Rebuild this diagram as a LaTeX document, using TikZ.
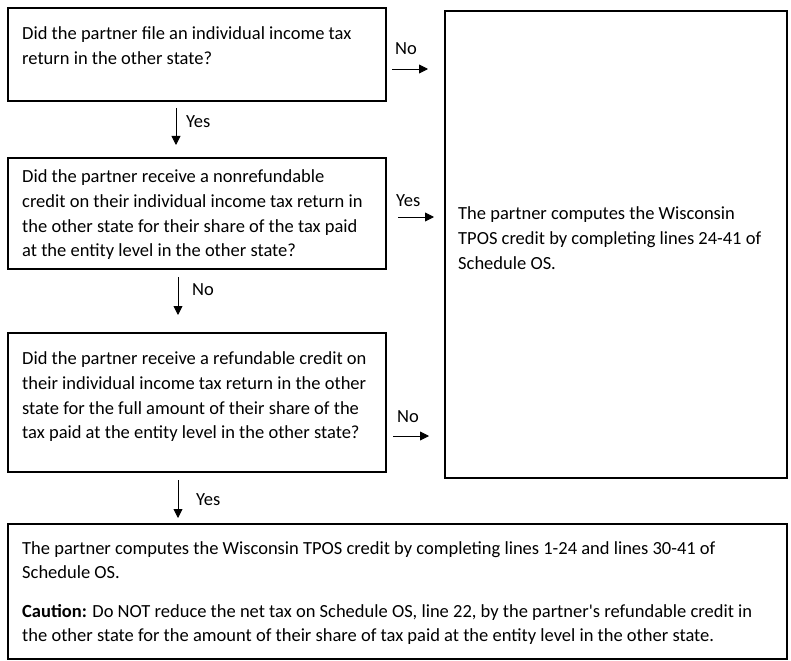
\documentclass[tikz,border=0pt]{standalone}
\usepackage{fontspec}
\setmainfont{Carlito}
\usetikzlibrary{arrows.meta}
\begin{document}
\begin{tikzpicture}[x=1bp,y=-1bp,
  box/.style={draw=black,line width=1.6bp,inner sep=0pt,anchor=north west},
  txt/.style={anchor=base west,align=left,inner sep=0pt,font=\fontsize{18.5bp}{24.8bp}\selectfont},
  lbl/.style={anchor=base west,inner sep=0pt,font=\fontsize{18.5bp}{24.8bp}\selectfont},
  arr/.style={line width=0.9bp,-{Triangle[length=9bp,width=9bp]}}]
\useasboundingbox (0,0) rectangle (791,661);
% boxes
\node[box,minimum width=378bp,minimum height=93bp] (b1) at (7,7) {};
\node[box,minimum width=378bp,minimum height=111bp] (b2) at (7,157) {};
\node[box,minimum width=378bp,minimum height=139bp] (b3) at (7,332) {};
\node[box,minimum width=342bp,minimum height=467bp] (r) at (444,10) {};
\node[box,minimum width=779bp,minimum height=135bp] (bot) at (7,523) {};
% texts (anchored at the baseline of their last line)
\node[txt] (t1) at (22,64.3) {Did the partner file an individual income tax\\return in the other state?};
\node[txt] (t2) at (22,256.9) {Did the partner receive a nonrefundable\\credit on their individual income tax return in\\the other state for their share of the tax paid\\at the entity level in the other state?};
\node[txt] (t3) at (22,438.9) {Did the partner receive a refundable credit on\\their individual income tax return in the other\\state for the full amount of their share of the\\tax paid at the entity level in the other state?};
\node[txt] (tr) at (458,269.1) {The partner computes the Wisconsin\\TPOS credit by completing lines 24-41 of\\Schedule OS.};
\node[txt] (tb1) at (22,578.8) {The partner computes the Wisconsin TPOS credit by completing lines 1-24 and lines 30-41 of\\Schedule OS.};
\node[txt] (tb2) at (22,641.8) {\textbf{Caution:} Do NOT reduce the net tax on Schedule OS, line 22, by the partner\textquotesingle s refundable credit in\\the other state for the amount of their share of tax paid at the entity level in the other state.};
% arrow endpoints
\coordinate (a1s) at (392,69); \coordinate (a1e) at (428,69);
\coordinate (a2s) at (176,108); \coordinate (a2e) at (176,145);
\coordinate (a3s) at (398,217); \coordinate (a3e) at (434,217);
\coordinate (a4s) at (178,277); \coordinate (a4e) at (178,315);
\coordinate (a5s) at (393,436); \coordinate (a5e) at (429,436);
\coordinate (a6s) at (178,480); \coordinate (a6e) at (178,518);
\draw[arr] (a1s) -- (a1e);
\draw[arr] (a2s) -- (a2e);
\draw[arr] (a3s) -- (a3e);
\draw[arr] (a4s) -- (a4e);
\draw[arr] (a5s) -- (a5e);
\draw[arr] (a6s) -- (a6e);
% labels
\node[lbl] (l1) at (395,55) {No};
\node[lbl] (l2) at (186,128) {Yes};
\node[lbl] (l3) at (396,206) {Yes};
\node[lbl] (l4) at (192,295) {No};
\node[lbl] (l5) at (397,422) {No};
\node[lbl] (l6) at (196,505) {Yes};
\end{tikzpicture}
\end{document}
